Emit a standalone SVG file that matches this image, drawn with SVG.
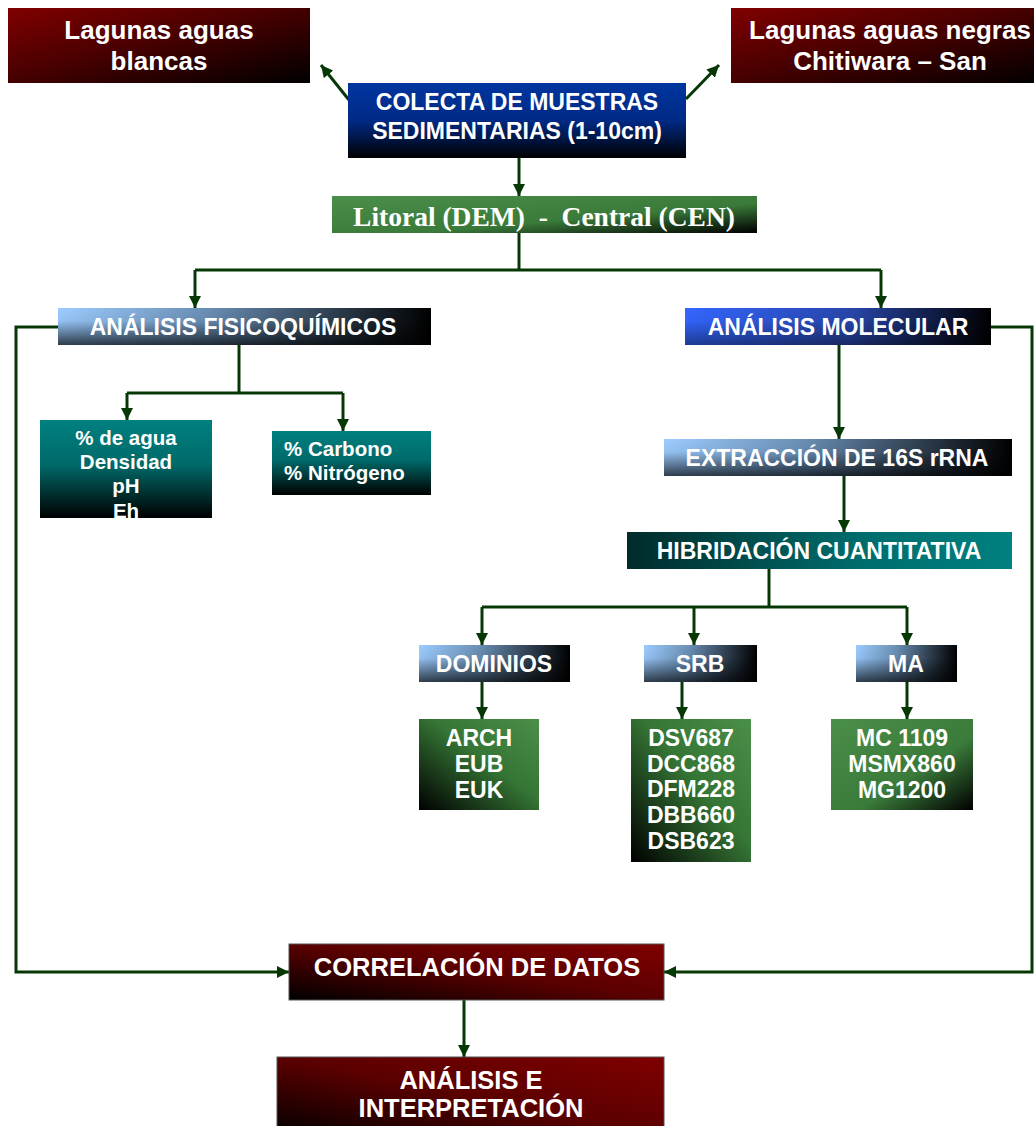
<svg xmlns="http://www.w3.org/2000/svg" width="1034" height="1126" viewBox="0 0 1034 1126">
<style>
.t{font-family:"Liberation Sans",Arial,sans-serif;font-weight:bold;fill:#fff;text-anchor:middle}
.s{font-family:"Liberation Serif","Times New Roman",serif;font-weight:bold;fill:#fff;text-anchor:middle}
.l{text-anchor:start}
.c{fill:none;stroke:#063806;stroke-width:3}
</style>
<defs>
<marker id="ah" viewBox="0 0 12 12" refX="12" refY="6" markerWidth="12" markerHeight="12" markerUnits="userSpaceOnUse" orient="auto">
<path d="M0,0 L12,6 L0,12 Z" fill="#063806"/>
</marker>
<linearGradient id="red" x1="0" y1="0" x2="1" y2="1"><stop offset="0" stop-color="#800000"/><stop offset="0.45" stop-color="#4a0000"/><stop offset="1" stop-color="#000"/></linearGradient>
<linearGradient id="red2" x1="0" y1="1" x2="1" y2="0"><stop offset="0" stop-color="#000"/><stop offset="0.5" stop-color="#5a0000"/><stop offset="1" stop-color="#800000"/></linearGradient>
<linearGradient id="blue" x1="0" y1="0" x2="0" y2="1"><stop offset="0" stop-color="#0035a0"/><stop offset="0.5" stop-color="#002a85"/><stop offset="1" stop-color="#000"/></linearGradient>
<linearGradient id="grn" x1="0" y1="0" x2="1" y2="1"><stop offset="0" stop-color="#4a8f4a"/><stop offset="0.6" stop-color="#3a7a3a"/><stop offset="1" stop-color="#000"/></linearGradient>
<linearGradient id="grn2" x1="0" y1="1" x2="1" y2="0"><stop offset="0" stop-color="#000"/><stop offset="0.55" stop-color="#357535"/><stop offset="1" stop-color="#4a8f4a"/></linearGradient>
<linearGradient id="lb" x1="0" y1="0" x2="1" y2="0"><stop offset="0" stop-color="#9cccff"/><stop offset="0.4" stop-color="#6a8fb5"/><stop offset="1" stop-color="#000"/></linearGradient>
<linearGradient id="mb" x1="0" y1="0" x2="1" y2="0"><stop offset="0" stop-color="#3366ff"/><stop offset="0.55" stop-color="#2845a8"/><stop offset="1" stop-color="#000"/></linearGradient>
<linearGradient id="shade" x1="0" y1="0" x2="0" y2="1"><stop offset="0" stop-color="#000" stop-opacity="0"/><stop offset="0.35" stop-color="#000" stop-opacity="0.05"/><stop offset="1" stop-color="#000" stop-opacity="0.7"/></linearGradient>
<linearGradient id="teal" x1="0" y1="0" x2="0" y2="1"><stop offset="0" stop-color="#008080"/><stop offset="0.45" stop-color="#006a6a"/><stop offset="1" stop-color="#000"/></linearGradient>
<linearGradient id="teal2" x1="0" y1="0" x2="1" y2="0"><stop offset="0" stop-color="#002b2b"/><stop offset="0.6" stop-color="#006c6c"/><stop offset="1" stop-color="#008080"/></linearGradient>
<clipPath id="cp1"><rect x="40" y="420" width="172" height="98"/></clipPath>
</defs>

<g id="connectors">
<path class="c" d="M349,100 L321,65" marker-end="url(#ah)"/>
<path class="c" d="M686,99 L719,65" marker-end="url(#ah)"/>
<path class="c" d="M519,158 L519,196" marker-end="url(#ah)"/>
<path class="c" d="M519,233 L519,270"/>
<path class="c" d="M195,270 L881,270"/>
<path class="c" d="M195,270 L195,308" marker-end="url(#ah)"/>
<path class="c" d="M881,270 L881,308" marker-end="url(#ah)"/>
<path class="c" d="M239,345 L239,393"/>
<path class="c" d="M127,393 L343,393"/>
<path class="c" d="M127,393 L127,420" marker-end="url(#ah)"/>
<path class="c" d="M343,393 L343,431" marker-end="url(#ah)"/>
<path class="c" d="M58,327 L16,327 L16,972 L289,972" marker-end="url(#ah)"/>
<path class="c" d="M839,345 L839,439" marker-end="url(#ah)"/>
<path class="c" d="M991,327 L1032,327 L1032,972 L664,972" marker-end="url(#ah)"/>
<path class="c" d="M844,476 L844,532" marker-end="url(#ah)"/>
<path class="c" d="M769,569 L769,607"/>
<path class="c" d="M482,607 L907,607"/>
<path class="c" d="M482,607 L482,645" marker-end="url(#ah)"/>
<path class="c" d="M694,607 L694,645" marker-end="url(#ah)"/>
<path class="c" d="M907,607 L907,645" marker-end="url(#ah)"/>
<path class="c" d="M482,682 L482,719" marker-end="url(#ah)"/>
<path class="c" d="M682,682 L682,719" marker-end="url(#ah)"/>
<path class="c" d="M907,682 L907,719" marker-end="url(#ah)"/>
<path class="c" d="M464,1000 L464,1057" marker-end="url(#ah)"/>
</g>

<g id="n-blancas">
<rect x="8" y="8" width="302" height="75" fill="url(#red)"/>
<text class="t" x="159" y="39" font-size="26">Lagunas aguas</text>
<text class="t" x="159" y="70" font-size="26">blancas</text>
</g>
<g id="n-negras">
<rect x="731" y="8" width="318" height="75" fill="url(#red)"/>
<text class="t" x="890" y="39" font-size="26">Lagunas aguas negras</text>
<text class="t" x="890" y="70" font-size="26">Chitiwara – San</text>
</g>
<g id="n-colecta">
<rect x="348" y="83" width="338" height="75" fill="url(#blue)"/>
<text class="t" x="517" y="110" font-size="23">COLECTA DE MUESTRAS</text>
<text class="t" x="517" y="139" font-size="23">SEDIMENTARIAS (1-10cm)</text>
</g>
<g id="n-litoral">
<rect x="332" y="196" width="425" height="37" fill="url(#grn)"/>
<text class="s" x="544" y="226" font-size="27.5" xml:space="preserve">Litoral (DEM)  -  Central (CEN)</text>
</g>
<g id="n-fisico">
<rect x="58" y="308" width="373" height="37" fill="url(#lb)"/>
<rect x="58" y="308" width="373" height="37" fill="url(#shade)"/>
<text class="t" x="243" y="335" font-size="23">ANÁLISIS FISICOQUÍMICOS</text>
</g>
<g id="n-agua">
<rect x="40" y="420" width="172" height="98" fill="url(#teal)"/>
<g clip-path="url(#cp1)">
<text class="t" x="126" y="445" font-size="20.5">% de agua</text>
<text class="t" x="126" y="469" font-size="20.5">Densidad</text>
<text class="t" x="126" y="493" font-size="20.5">pH</text>
<text class="t" x="126" y="518" font-size="20.5">Eh</text>
</g>
</g>
<g id="n-carbono">
<rect x="272" y="431" width="159" height="64" fill="url(#teal)"/>
<text class="t l" x="284" y="456" font-size="20.5">% Carbono</text>
<text class="t l" x="284" y="480" font-size="20.5">% Nitrógeno</text>
</g>
<g id="n-molecular">
<rect x="685" y="308" width="306" height="37" fill="url(#mb)"/>
<rect x="685" y="308" width="306" height="37" fill="url(#shade)" opacity="0.6"/>
<text class="t" x="838" y="335" font-size="23">ANÁLISIS MOLECULAR</text>
</g>
<g id="n-extraccion">
<rect x="664" y="439" width="348" height="37" fill="url(#lb)"/>
<rect x="664" y="439" width="348" height="37" fill="url(#shade)"/>
<text class="t" x="837" y="466" font-size="23">EXTRACCIÓN DE 16S rRNA</text>
</g>
<g id="n-hibridacion">
<rect x="627" y="532" width="385" height="37" fill="url(#teal2)"/>
<text class="t" x="819" y="559" font-size="23">HIBRIDACIÓN CUANTITATIVA</text>
</g>
<g id="n-dominios">
<rect x="419" y="645" width="151" height="37" fill="url(#lb)"/>
<rect x="419" y="645" width="151" height="37" fill="url(#shade)"/>
<text class="t" x="494" y="672" font-size="23">DOMINIOS</text>
</g>
<g id="n-srb">
<rect x="644" y="645" width="113" height="37" fill="url(#lb)"/>
<rect x="644" y="645" width="113" height="37" fill="url(#shade)"/>
<text class="t" x="700" y="672" font-size="23">SRB</text>
</g>
<g id="n-ma">
<rect x="856" y="645" width="101" height="37" fill="url(#lb)"/>
<rect x="856" y="645" width="101" height="37" fill="url(#shade)"/>
<text class="t" x="906" y="672" font-size="23">MA</text>
</g>
<g id="n-arch">
<rect x="419" y="719" width="120" height="91" fill="url(#grn2)"/>
<text class="t" x="479" y="746" font-size="23">ARCH</text>
<text class="t" x="479" y="772" font-size="23">EUB</text>
<text class="t" x="479" y="798" font-size="23">EUK</text>
</g>
<g id="n-dsv">
<rect x="631" y="719" width="120" height="143" fill="url(#grn2)"/>
<text class="t" x="691" y="746" font-size="23">DSV687</text>
<text class="t" x="691" y="772" font-size="23">DCC868</text>
<text class="t" x="691" y="797" font-size="23">DFM228</text>
<text class="t" x="691" y="823" font-size="23">DBB660</text>
<text class="t" x="691" y="849" font-size="23">DSB623</text>
</g>
<g id="n-mc">
<rect x="831" y="719" width="142" height="91" fill="url(#grn)"/>
<text class="t" x="902" y="746" font-size="23">MC 1109</text>
<text class="t" x="902" y="772" font-size="23">MSMX860</text>
<text class="t" x="902" y="798" font-size="23">MG1200</text>
</g>
<g id="n-correlacion">
<rect x="289" y="944" width="375" height="56" fill="url(#red2)" stroke="#555" stroke-width="1"/>
<text class="t" x="477" y="976" font-size="25.5">CORRELACIÓN DE DATOS</text>
</g>
<g id="n-analisis">
<rect x="277" y="1057" width="387" height="80" fill="url(#red2)" stroke="#555" stroke-width="1"/>
<text class="t" x="471" y="1089" font-size="25.5">ANÁLISIS E</text>
<text class="t" x="471" y="1117" font-size="25.5">INTERPRETACIÓN</text>
</g>
</svg>
